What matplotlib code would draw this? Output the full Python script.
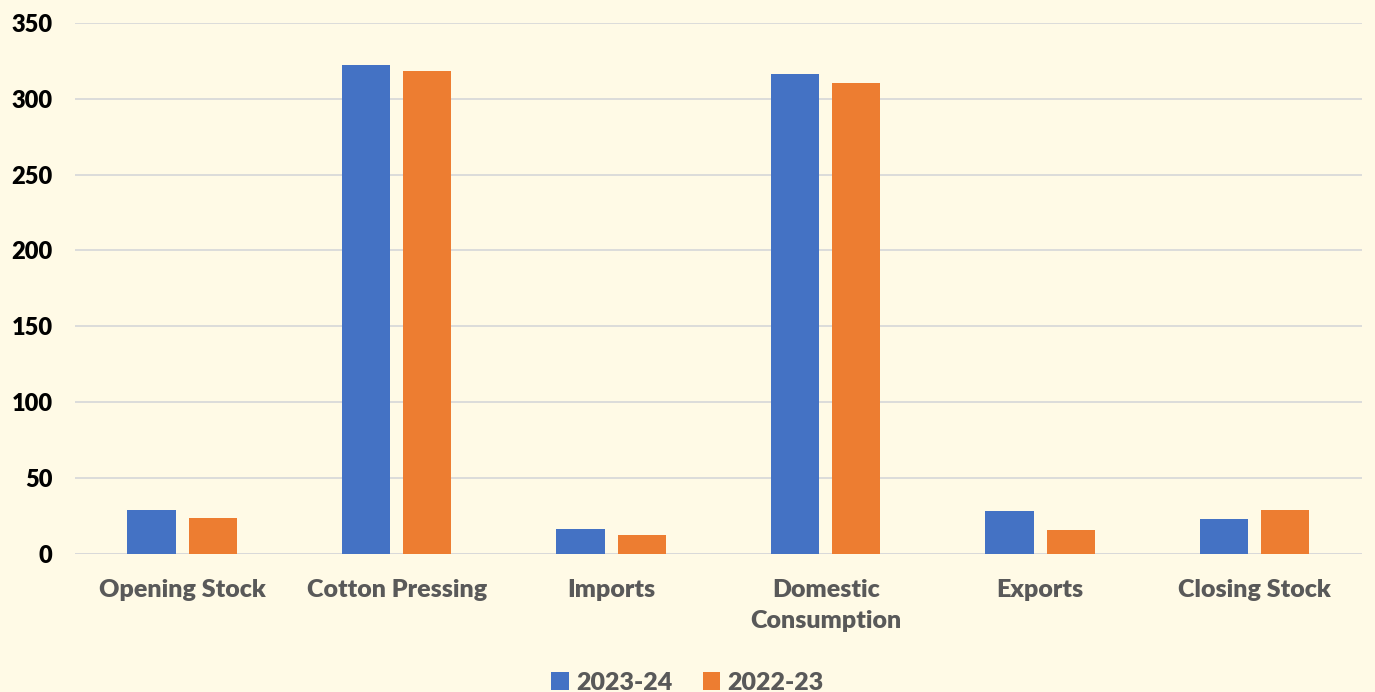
import matplotlib
matplotlib.use('Agg')
import matplotlib.pyplot as plt
import numpy as np

categories = ['Opening Stock', 'Cotton Pressing', 'Imports', 'Domestic\nConsumption', 'Exports', 'Closing Stock']
s_2324 = [28.7, 322.4, 16.4, 316.4, 28.1, 23.2]
s_2223 = [23.9, 318.4, 12.5, 310.5, 15.6, 28.7]

plt.rcParams['font.family'] = ['Lato', 'DejaVu Sans']
bg = '#FFFAE6'

fig = plt.figure(figsize=(13.75, 6.92), dpi=100, facecolor=bg)
ax = fig.add_axes([0.0545, 0.1994, 0.936, 0.7676], facecolor=bg)

x = np.arange(len(categories))
w = 0.225
ax.bar(x - 0.1425, s_2324, w, color='#4472C4', label='2023-24', zorder=3)
ax.bar(x + 0.1425, s_2223, w, color='#ED7D31', label='2022-23', zorder=3)

ax.set_xlim(-0.5, len(categories) - 0.5)
ax.set_ylim(0, 350)
ax.set_yticks(range(0, 351, 50))
ax.yaxis.grid(True, color='#D9D9D9', linewidth=1.3, zorder=0)
for s in ax.spines.values():
    s.set_visible(False)
ax.axhline(0, color='#D9D9D9', linewidth=1.3, zorder=2)
ax.tick_params(axis='both', length=0)
ax.tick_params(axis='y', pad=16)
ax.tick_params(axis='x', pad=18)
ax.set_xticks(x)
ax.set_xticklabels(categories, fontsize=18, fontweight='heavy', color='#595959', linespacing=1.5)
for t in ax.get_yticklabels():
    t.set_fontsize(17)
    t.set_fontweight('heavy')
    t.set_color('black')

leg = fig.legend(loc='lower center', bbox_to_anchor=(0.5, -0.035), ncol=2, frameon=False,
                 prop={'size': 18, 'weight': 'heavy'}, handlelength=0.7, handleheight=0.7,
                 columnspacing=1.2, handletextpad=0.3)
for t in leg.get_texts():
    t.set_color('#595959')

fig.savefig('out.png', dpi=100, facecolor=bg)
